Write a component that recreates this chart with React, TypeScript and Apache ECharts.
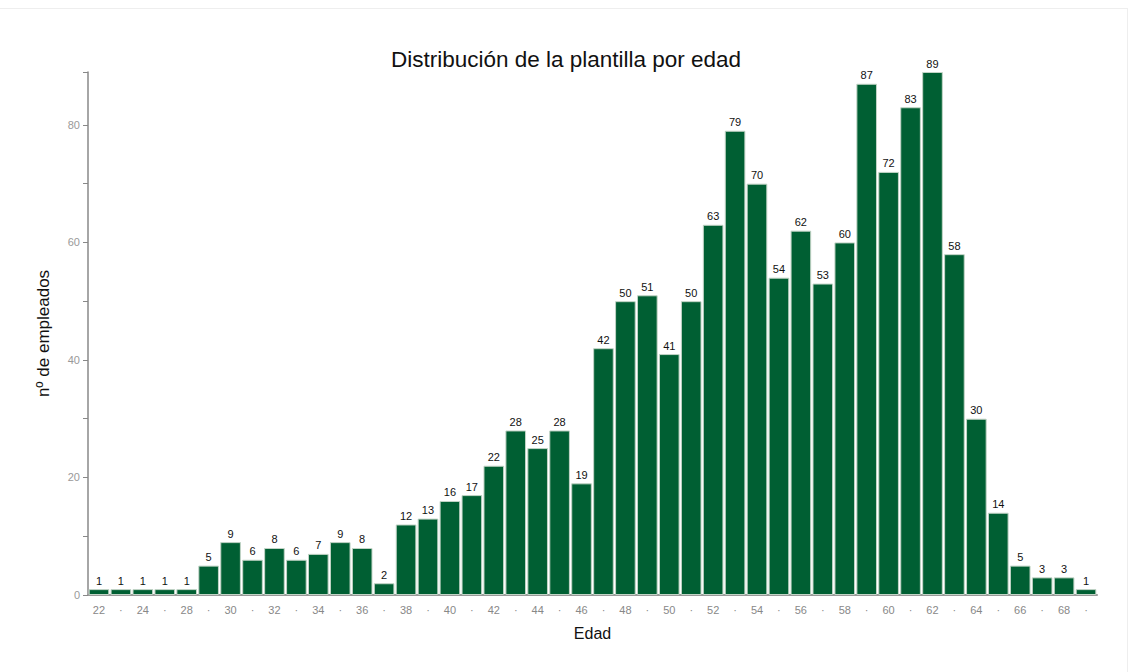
import React, { useEffect, useRef } from "react";
import * as echarts from "echarts";

// Edades (categorías) y número de empleados por edad
const ages: string[] = [
  "22", "23", "24", "26", "28", "29", "30", "31", "32", "33", "34", "35", "36", "37", "38", "39",
  "40", "41", "42", "43", "44", "45", "46", "47", "48", "49", "50", "51", "52", "53", "54", "55",
  "56", "57", "58", "59", "60", "61", "62", "63", "64", "65", "66", "67", "68", "69",
];
const employees: number[] = [
  1, 1, 1, 1, 1, 5, 9, 6, 8, 6, 7, 9, 8, 2, 12, 13,
  16, 17, 22, 28, 25, 28, 19, 42, 50, 51, 41, 50, 63, 79, 70, 54,
  62, 53, 60, 87, 72, 83, 89, 58, 30, 14, 5, 3, 3, 1,
];
const yLabelValues: number[] = [0, 20, 40, 60, 80];

const FONT = "'Liberation Sans', Arial, sans-serif";

export default function App() {
  const ref = useRef<HTMLDivElement>(null);

  useEffect(() => {
    if (!ref.current) return;
    const chart = echarts.init(ref.current, undefined, { renderer: "svg" });
    chart.setOption({
      animation: false,
      textStyle: { fontFamily: FONT },
      title: {
        text: "Distribución de la plantilla por edad",
        left: 553,
        top: 35,
        textAlign: "center",
        textStyle: { fontSize: 22.5, fontWeight: "normal", color: "#111", fontFamily: FONT },
      },
      grid: { left: 80, right: 28, top: 64, bottom: 77 },
      xAxis: {
        type: "category",
        data: ages,
        name: "Edad",
        nameLocation: "middle",
        nameGap: 30,
        nameTextStyle: { fontSize: 16, color: "#111", fontFamily: FONT },
        axisLine: { lineStyle: { color: "#999", width: 2 } },
        axisTick: { show: false },
        axisLabel: {
          interval: 0,
          color: "#888",
          fontSize: 11,
          margin: 9,
          formatter: (v: string, i: number) => (i % 2 === 0 ? v : "·"),
        },
      },
      yAxis: {
        type: "value",
        min: 0,
        max: 89,
        interval: 10,
        name: "nº de empleados",
        nameLocation: "middle",
        nameGap: 36,
        nameTextStyle: { fontSize: 17, color: "#111", fontFamily: FONT },
        axisLine: { show: true, lineStyle: { color: "#888", width: 1.5 } },
        axisTick: { show: true, length: 5, lineStyle: { color: "#888" } },
        splitLine: { show: false },
        axisLabel: {
          color: "#999",
          fontSize: 11,
          margin: 8,
          formatter: (v: number) => (yLabelValues.includes(v) ? String(v) : ""),
        },
      },
      series: [
        {
          type: "bar",
          data: employees,
          barCategoryGap: "6%",
          itemStyle: { color: "#005f33", borderColor: "#c2d4c6", borderWidth: 1 },
          label: {
            show: true,
            position: "top",
            distance: 3,
            color: "#111",
            fontSize: 11,
            fontFamily: FONT,
          },
        },
      ],
    });
    return () => chart.dispose();
  }, []);

  return (
    <div
      style={{
        width: 1133,
        height: 672,
        position: "absolute",
        left: 0,
        top: 0,
        background: "#fff",
      }}
    >
      <div
        style={{
          position: "absolute",
          left: 0,
          top: 8,
          width: 1128,
          height: 664,
          borderTop: "1px solid #eee",
          borderRight: "1px solid #eee",
          boxSizing: "border-box",
        }}
      />
      <div ref={ref} style={{ position: "absolute", left: 8, top: 8, width: 1117, height: 664 }} />
    </div>
  );
}
